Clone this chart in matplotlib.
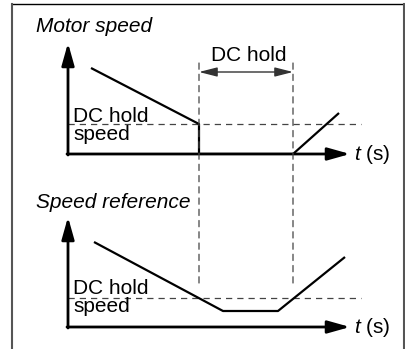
import matplotlib
matplotlib.use("Agg")
import matplotlib.pyplot as plt
from matplotlib.patches import ConnectionPatch
from matplotlib.lines import Line2D

plt.rcParams['font.family'] = ['Liberation Sans', 'DejaVu Sans']
plt.rcParams['mathtext.fontset'] = 'custom'
plt.rcParams['mathtext.it'] = 'Liberation Sans:italic'
plt.rcParams['mathtext.rm'] = 'Liberation Sans'

# ---- data (time units / speed units) ----
motor_t = [2.3, 13.1, 13.1, 22.5, 27.1]
motor_speed = [8.6, 3.0, 0.0, 0.0, 4.1]
ref_t = [2.6, 15.5, 21.0, 27.7]
ref_speed = [8.5, 1.6, 1.6, 7.0]
dc_hold_start = 13.1
dc_hold_end = 22.5
dc_hold_speed_motor = 3.0
dc_hold_speed_ref = 2.95
title_top = "Motor speed"
title_bottom = "Speed reference"
dc_label = "DC hold"
axis_label = r"$t$ (s)"

FS = 15
W, H = 406, 349
fig = plt.figure(figsize=(W / 100, H / 100), dpi=100)
scale = 10.0  # pixels per unit

def make_ax(ox, oy, top):
    ax = fig.add_axes([ox / W, 1 - oy / H, (W - ox) / W, (oy - top) / H])
    ax.set_xlim(0, (W - ox) / scale)
    ax.set_ylim(0, (oy - top) / scale)
    ax.axis('off')
    return ax

ax1 = make_ax(68, 154, 0)
ax2 = make_ax(68, 327, 175)

def axes_arrows(ax, ytip, xtip):
    kw = dict(arrowstyle='-|>,head_length=1.35,head_width=0.38', lw=2.0,
              color='black', shrinkA=0, shrinkB=0, mutation_scale=10)
    ax.annotate('', xy=(0, ytip), xytext=(0, -0.1), arrowprops=kw, annotation_clip=False)
    ax.annotate('', xy=(xtip, 0), xytext=(-0.1, 0), arrowprops=kw, annotation_clip=False)

axes_arrows(ax1, 11.1, 28.2)
axes_arrows(ax2, 11.0, 28.2)

dash_kw = dict(color='#444444', lw=0.9, linestyle=(0, (5.0, 4.0)))
ax1.plot([0, 29.3], [dc_hold_speed_motor] * 2, **dash_kw)
ax2.plot([0, 29.3], [dc_hold_speed_ref] * 2, **dash_kw)

ax1.plot(motor_t, motor_speed, color='black', lw=1.6, solid_capstyle='butt')
ax2.plot(ref_t, ref_speed, color='black', lw=1.6, solid_capstyle='butt')

for tx in (dc_hold_start, dc_hold_end):
    cp = ConnectionPatch(xyA=(tx, 9.1), coordsA=ax1.transData,
                         xyB=(tx, 3.9), coordsB=ax2.transData,
                         color='#444444', lw=0.9, linestyle=(0, (5.0, 4.0)))
    fig.add_artist(cp)

ax1.annotate('', xy=(dc_hold_end, 8.2), xytext=(dc_hold_start, 8.2),
             arrowprops=dict(arrowstyle='<|-|>,head_length=1.1,head_width=0.28',
                             lw=1.0, color='#333333', shrinkA=0, shrinkB=0,
                             mutation_scale=10), annotation_clip=False)
ax1.text((dc_hold_start + dc_hold_end) / 2 + 0.3, 9.3, dc_label, ha='center',
         va='baseline', fontsize=FS, clip_on=False)

ax1.text(-3.2, 12.2, title_top, fontsize=FS, style='italic', va='baseline', clip_on=False)
ax2.text(-3.2, 11.9, title_bottom, fontsize=FS, style='italic', va='baseline', clip_on=False)

ax1.text(0.5, 3.2, "DC hold", fontsize=FS, va='baseline', clip_on=False)
ax1.text(0.5, 1.4, "speed", fontsize=FS, va='baseline', clip_on=False)
ax2.text(0.5, 3.25, "DC hold", fontsize=FS, va='baseline', clip_on=False)
ax2.text(0.5, 1.45, "speed", fontsize=FS, va='baseline', clip_on=False)

for ax in (ax1, ax2):
    ax.text(28.6, -0.6, axis_label, fontsize=FS, va='baseline', clip_on=False)

# frame
fig.add_artist(Line2D([12 / W, 404 / W], [1 - 4 / H, 1 - 4 / H], color='black', lw=1.0))
fig.add_artist(Line2D([12 / W, 12 / W], [1 - 4 / H, 0], color='#555555', lw=1.5))
fig.add_artist(Line2D([404 / W, 404 / W], [1 - 4 / H, 0], color='#555555', lw=1.5))

fig.savefig('out.png', dpi=100)
